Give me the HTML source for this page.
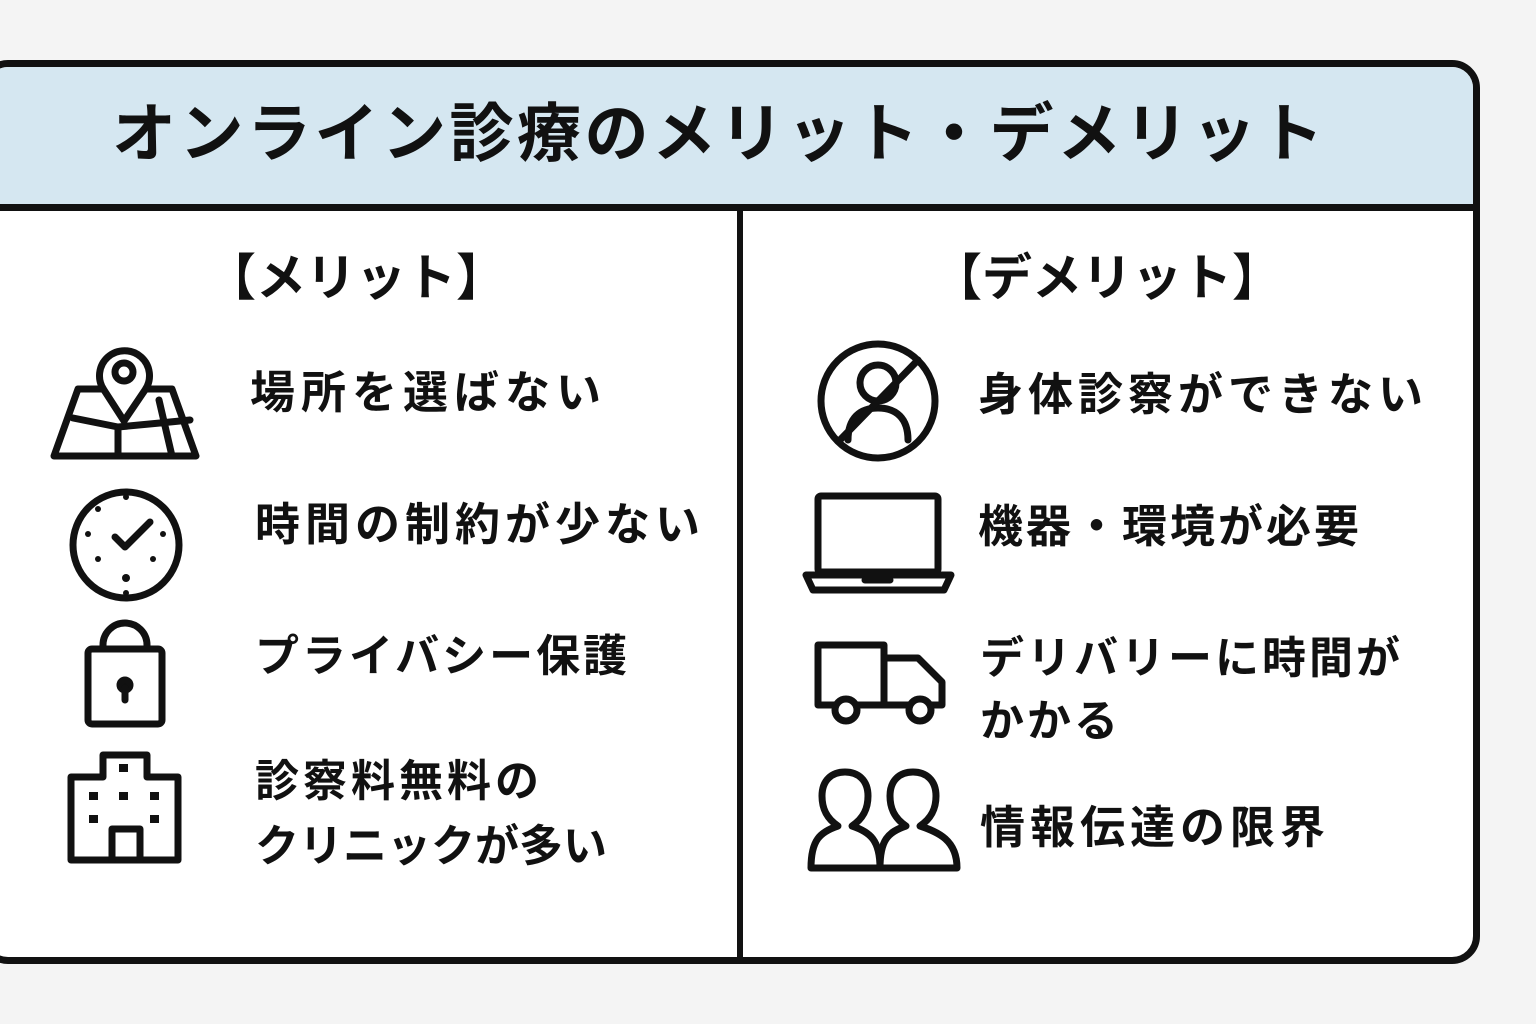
<!DOCTYPE html>
<html><head><meta charset="utf-8"><style>
body{margin:0;width:1536px;height:1024px;background:#f4f4f4;position:relative;overflow:hidden;font-family:"Liberation Sans","Noto Sans CJK JP",sans-serif;font-weight:bold;color:#111}
.card{position:absolute;left:-20px;top:60px;width:1486px;height:890px;border:7px solid #111;border-radius:28px;background:#fff;overflow:hidden}
.hd{position:absolute;left:0;top:0;width:100%;height:137px;background:#d5e7f1;border-bottom:7px solid #111}
.vl{position:absolute;left:750px;top:144px;width:6px;height:760px;background:#111}
.t{position:absolute;white-space:nowrap;line-height:1}
svg{position:absolute;left:0;top:0}
</style></head><body>
<div class="card"><div class="hd"></div><div class="vl"></div></div>
<div class="t" style="left:112px;top:102px;font-size:64px;letter-spacing:3.5px">オンライン診療のメリット・デメリット</div>
<div class="t" style="left:206px;top:253px;font-size:50px">【メリット】</div>
<div class="t" style="left:932px;top:253px;font-size:50px">【デメリット】</div>
<div class="t" style="left:250px;top:370px;font-size:45px;letter-spacing:6px">場所を選ばない</div>
<div class="t" style="left:255px;top:502px;font-size:45px;letter-spacing:5px">時間の制約が少ない</div>
<div class="t" style="left:255px;top:635px;font-size:44px;letter-spacing:3px">プライバシー保護</div>
<div class="t" style="left:255px;top:760px;font-size:44px;letter-spacing:4px">診察料無料の</div>
<div class="t" style="left:255px;top:825px;font-size:44px;letter-spacing:0px">クリニックが多い</div>
<div class="t" style="left:978px;top:372px;font-size:45px;letter-spacing:5px">身体診察ができない</div>
<div class="t" style="left:978px;top:504px;font-size:45px;letter-spacing:3px">機器・環境が必要</div>
<div class="t" style="left:980px;top:637px;font-size:44px;letter-spacing:3px">デリバリーに時間が</div>
<div class="t" style="left:980px;top:700px;font-size:44px;letter-spacing:3px">かかる</div>
<div class="t" style="left:980px;top:805px;font-size:45px;letter-spacing:5px">情報伝達の限界</div>
<svg width="1536" height="1024" fill="none" stroke="#111" stroke-width="7" stroke-linejoin="round" stroke-linecap="round">
<path d="M78 389 L172 389 L196 456 L54 456 Z"/>
<path d="M73 418 L118 427 L160 423 L190 420 M118 428 V456 M159 400 L172 456"/>
<path d="M124 421 L104 390 A25 25 0 1 1 145 390 Z" fill="#fff"/>
<circle cx="124" cy="372" r="9"/>
<circle cx="126" cy="545" r="53"/>
<path d="M115 537 L125 547 L150 522"/>
<g fill="#111" stroke="none"><circle cx="126" cy="497" r="3"/><circle cx="126" cy="593" r="3"/><circle cx="88" cy="534" r="3"/><circle cx="163" cy="534" r="3"/><circle cx="98" cy="509" r="3"/><circle cx="98" cy="559" r="3"/><circle cx="153" cy="559" r="3"/><circle cx="126" cy="578" r="4"/></g>
<path d="M103 649 V645 A22 22 0 0 1 147 645 V649"/>
<rect x="88" y="649" width="74" height="75" rx="4"/>
<circle cx="125" cy="685" r="5" fill="#111"/><path d="M125 688 V700"/>
<path d="M103 755 H147 V777 H178 V860 H71 V777 H103 Z"/>
<path d="M112 860 V829 H140 V860"/>
<g fill="#111" stroke="none"><rect x="119" y="764" width="9" height="8"/><rect x="89" y="792" width="9" height="8"/><rect x="119" y="792" width="9" height="8"/><rect x="150" y="792" width="9" height="8"/><rect x="89" y="815" width="9" height="8"/><rect x="150" y="815" width="9" height="8"/></g>
<circle cx="878" cy="401" r="57"/>
<circle cx="878" cy="383" r="18"/>
<path d="M848 440 C848 418 860 408 878 408 C896 408 908 418 908 440"/>
<path d="M840 440 L918 360"/>
<rect x="818" y="496" width="120" height="76" rx="3"/>
<path d="M806 575 H951 L944 590 H813 Z"/>
<path d="M865 580 H890"/>
<path d="M818 645 H884 V705 H818 Z"/>
<path d="M884 658 H918 L942 682 V705 H884"/>
<circle cx="846" cy="710" r="11" fill="#fff"/><circle cx="920" cy="710" r="11" fill="#fff"/>
<path d="M811 868 C811 840 820 832 838 826 C826 818 822 808 822 796 C822 780 832 772 845 772 C858 772 868 780 868 796 C868 808 864 818 852 826 C870 832 880 840 880 868 Z"/>
<path d="M880 868 C880 840 888 832 906 826 C894 818 890 808 890 796 C890 780 900 772 913 772 C926 772 936 780 936 796 C936 808 932 818 920 826 C938 832 957 840 957 868 Z"/>
</svg>
</body></html>
